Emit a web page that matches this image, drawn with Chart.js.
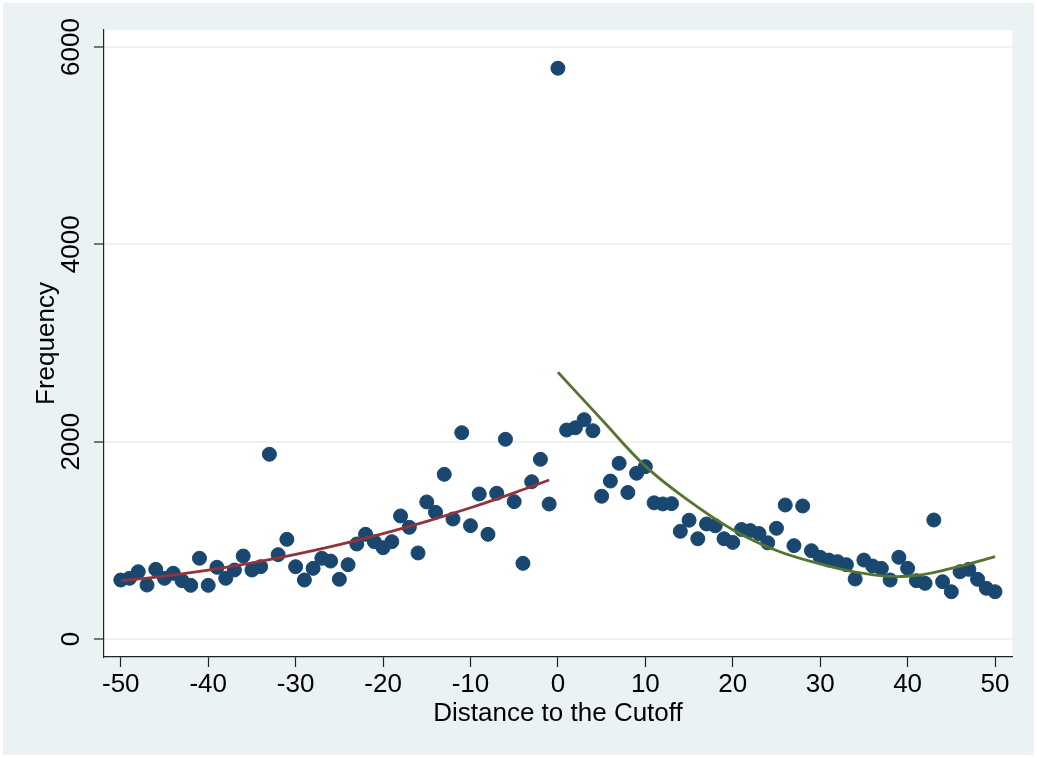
<!DOCTYPE html>
<html>
<head>
<meta charset="utf-8">
<script src="https://cdn.jsdelivr.net/npm/chart.js@4/dist/chart.umd.min.js"></script>
<style>
  body { margin: 0; background: #ffffff; }
  #wrap { width: 1037px; height: 758px; }
</style>
</head>
<body>
<div id="wrap"><canvas id="chartCanvas" width="1037" height="758"></canvas></div>
<script>
// distance to cutoff (bins) and counts
const distance = [-50, -49, -48, -47, -46, -45, -44, -43, -42, -41,
    -40, -39, -38, -37, -36, -35, -34, -33, -32, -31,
    -30, -29, -28, -27, -26, -25, -24, -23, -22, -21,
    -20, -19, -18, -17, -16, -15, -14, -13, -12, -11,
    -10, -9, -8, -7, -6, -5, -4, -3, -2, -1,
    0, 1, 2, 3, 4, 5, 6, 7, 8, 9,
    10, 11, 12, 13, 14, 15, 16, 17, 18, 19,
    20, 21, 22, 23, 24, 25, 26, 27, 28, 29,
    30, 31, 32, 33, 34, 35, 36, 37, 38, 39,
    40, 41, 42, 43, 44, 45, 46, 47, 48, 49, 50];
const frequency = [598, 615, 682, 547, 706, 615, 666, 591, 544, 818,
    544, 727, 615, 699, 841, 699, 733, 1872, 855, 1010,
    733, 598, 716, 818, 790, 605, 753, 963, 1061, 986,
    925, 986, 1247, 1132, 872, 1389, 1284, 1669, 1216, 2091,
    1149, 1470, 1061, 1477, 2024, 1392, 767, 1594, 1821, 1368,
    5785, 2118, 2141, 2223, 2111, 1447, 1601, 1781, 1485, 1680,
    1747, 1380, 1369, 1372, 1091, 1204, 1016, 1166, 1147, 1016,
    979, 1110, 1099, 1069, 975, 1122, 1358, 946, 1348, 895,
    828, 800, 784, 753, 608, 800, 740, 716, 598, 828,
    716, 591, 564, 1206, 581, 479, 682, 706, 605, 514, 479];

// fitted curves, left and right of the cutoff
const leftFitX = [-50, -45, -40, -35, -30, -25, -20, -15, -10, -5, -1];
const leftFitY = [591, 638, 698, 771, 857, 956, 1068, 1193, 1330, 1481, 1611];
const rightFitX = [0, 5, 10, 15, 20, 25, 30, 35, 40, 45, 50];
const rightFitY = [2703, 2225, 1752, 1400, 1108, 897, 762, 665, 636, 715, 834];

const xTicks = [-50, -40, -30, -20, -10, 0, 10, 20, 30, 40, 50];
const yTicks = [0, 2000, 4000, 6000];

const FONT = "'Liberation Sans', Arial, sans-serif";

const background = {
    id: 'background',
    beforeDraw(chart) {
        const { ctx, chartArea: a, width, height } = chart;
        ctx.save();
        ctx.fillStyle = '#ffffff';
        ctx.fillRect(0, 0, width, height);
        ctx.fillStyle = '#eaf2f3';
        ctx.fillRect(3, 3, width - 6, height - 6);
        ctx.fillStyle = '#ffffff';
        ctx.fillRect(a.left, a.top, a.right - a.left, a.bottom - a.top);
        ctx.restore();
    }
};

const points = distance.map((d, i) => ({ x: d, y: frequency[i] }));
const leftFit = leftFitX.map((d, i) => ({ x: d, y: leftFitY[i] }));
const rightFit = rightFitX.map((d, i) => ({ x: d, y: rightFitY[i] }));

new Chart(document.getElementById('chartCanvas').getContext('2d'), {
    type: 'scatter',
    data: {
        datasets: [
            { data: leftFit, showLine: true, borderColor: '#90353b', borderWidth: 2.8,
              pointRadius: 0, tension: 0.4, order: 1 },
            { data: rightFit, showLine: true, borderColor: '#55752f', borderWidth: 2.8,
              pointRadius: 0, tension: 0.4, order: 1 },
            { data: points, backgroundColor: '#1a476f', borderColor: '#1a476f', borderWidth: 1,
              pointRadius: 7, order: 2 }
        ]
    },
    options: {
        responsive: false,
        animation: false,
        layout: { padding: { top: 30, right: 25, left: 0, bottom: 0 } },
        plugins: { legend: { display: false }, tooltip: { enabled: false } },
        scales: {
            x: {
                type: 'linear',
                min: -51.92,
                max: 51.94,
                afterFit: s => { s.height = 101; },
                afterBuildTicks: s => { s.ticks = xTicks.map(v => ({ value: v })); },
                grid: { drawOnChartArea: false, drawTicks: true, tickLength: 10, tickColor: '#222', tickWidth: 1.2 },
                border: { display: true, color: '#222', width: 1.2 },
                ticks: { color: '#000', font: { family: FONT, size: 26 }, padding: 2, maxRotation: 0,
                         callback: v => String(v) },
                title: { display: true, text: 'Distance to the Cutoff', color: '#000',
                         font: { family: FONT, size: 26 }, padding: { top: 0, bottom: 29 } }
            },
            y: {
                min: -182.4,
                max: 6172.3,
                afterFit: s => { s.width = 104; },
                afterBuildTicks: s => { s.ticks = yTicks.map(v => ({ value: v })); },
                grid: { color: '#eaf2f3', lineWidth: 2, drawTicks: true, tickLength: 10, tickColor: '#222', tickWidth: 1.2 },
                border: { display: true, color: '#222', width: 1.2 },
                ticks: { color: '#000', font: { family: FONT, size: 26 }, minRotation: 90, maxRotation: 90,
                         crossAlign: 'center', padding: -7, callback: v => String(v) },
                title: { display: true, text: 'Frequency', color: '#000',
                         font: { family: FONT, size: 26 }, padding: { top: 31, bottom: 0 } }
            }
        }
    },
    plugins: [background]
});
</script>
</body>
</html>
